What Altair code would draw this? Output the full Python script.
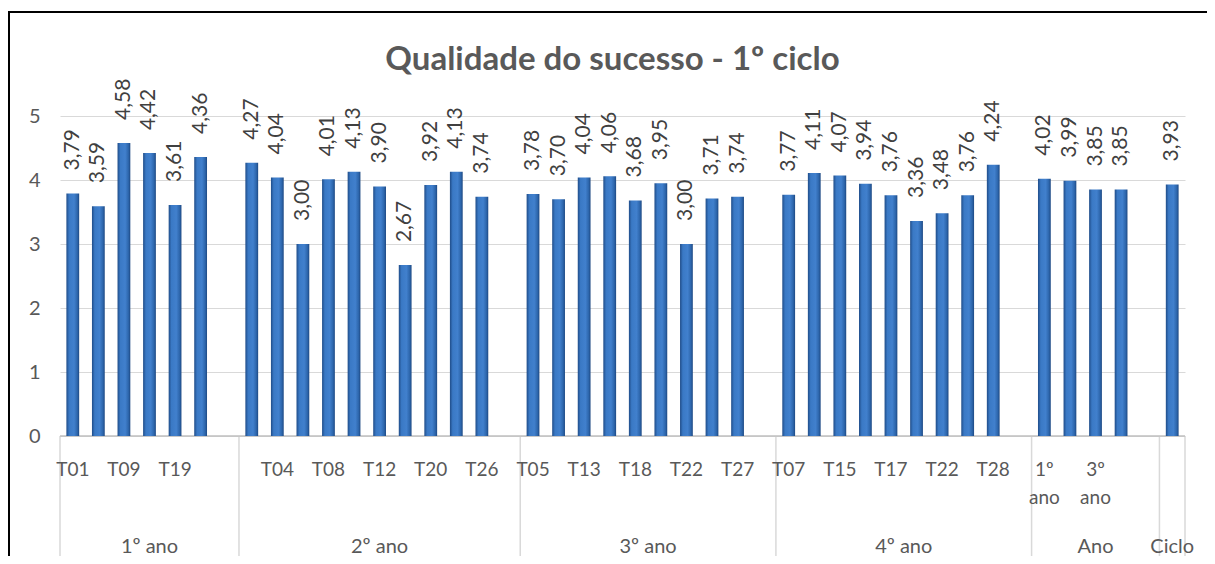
import altair as alt
import pandas as pd

# ---- data ----
title_text = "Qualidade do sucesso - 1º ciclo"
groups = ["1º ano", "2º ano", "3º ano", "4º ano", "Ano", "Ciclo"]

values_1ano = [3.79, 3.59, 4.58, 4.42, 3.61, 4.36]
values_2ano = [4.27, 4.04, 3.00, 4.01, 4.13, 3.90, 2.67, 3.92, 4.13, 3.74]
values_3ano = [3.78, 3.70, 4.04, 4.06, 3.68, 3.95, 3.00, 3.71, 3.74]
values_4ano = [3.77, 4.11, 4.07, 3.94, 3.76, 3.36, 3.48, 3.76, 4.24]
values_ano = [4.02, 3.99, 3.85, 3.85]
values_ciclo = [3.93]

# visible category labels (Excel showed every other one; "" = label not shown)
ticks_1ano = ["T01", "", "T09", "", "T19", ""]
ticks_2ano = ["", "T04", "", "T08", "", "T12", "", "T20", "", "T26"]
ticks_3ano = ["T05", "", "T13", "", "T18", "", "T22", "", "T27"]
ticks_4ano = ["T07", "", "T15", "", "T17", "", "T22", "", "T28"]
ticks_ano = ["1º\nano", "", "3º\nano", ""]
ticks_ciclo = [""]

# each group (except the last) is followed by one empty category slot
spacers = [1, 1, 1, 1, 1, 0]

all_values = [values_1ano, values_2ano, values_3ano, values_4ano, values_ano, values_ciclo]
all_ticks = [ticks_1ano, ticks_2ano, ticks_3ano, ticks_4ano, ticks_ano, ticks_ciclo]

rows, grows, brows = [], [], []
i = 0
brows.append({"b": 0})
for g, vals, tks, sp in zip(groups, all_values, all_ticks, spacers):
    start = i
    for v, t in zip(vals, tks):
        rows.append({"i": i, "v": v, "lbl": f"{v:.2f}".replace(".", ","), "tick": t, "g": g})
        i += 1
    i += sp
    grows.append({"g": g, "s": start, "e": i})
    brows.append({"b": i})
N = i

df = pd.DataFrame(rows)
gdf = pd.DataFrame(grows)
bdf = pd.DataFrame(brows)

W, H = 1125, 320
FONT = "Lato"
xscale = alt.Scale(domain=[0, N], nice=False, zero=False)
yscale = alt.Scale(domain=[0, 5], nice=False)

base = alt.Chart(df).transform_calculate(
    x0="datum.i + 0.25", x1="datum.i + 0.75", xc="datum.i + 0.5"
)

grad = alt.Gradient(
    gradient="linear",
    stops=[
        alt.GradientStop(color="#1f4c88", offset=0),
        alt.GradientStop(color="#3a79c5", offset=0.22),
        alt.GradientStop(color="#4180cd", offset=0.6),
        alt.GradientStop(color="#2d66ac", offset=0.85),
        alt.GradientStop(color="#1d4882", offset=1),
    ],
    x1=0, x2=1, y1=0, y2=0,
)

bars = base.mark_bar(color=grad).encode(
    x=alt.X("x0:Q", scale=xscale, axis=None),
    x2="x1:Q",
    y=alt.Y(
        "v:Q",
        scale=yscale,
        axis=alt.Axis(
            values=[0, 1, 2, 3, 4, 5],
            format="d",
            grid=True,
            gridColor="#d9d9d9",
            gridWidth=1.2,
            domain=False,
            ticks=False,
            labelPadding=20,
            labelFontSize=20,
            labelFont=FONT,
            labelColor="#595959",
            title=None,
        ),
    ),
    y2=alt.datum(0),
)

value_labels = base.mark_text(
    angle=270, align="left", baseline="middle", dx=23,
    fontSize=21, font=FONT, color="#404040",
).encode(
    x=alt.X("xc:Q", scale=xscale, axis=None),
    y=alt.Y("v:Q", scale=yscale),
    text="lbl:N",
)

tick_labels = base.mark_text(
    align="center", baseline="top", fontSize=19, font=FONT,
    color="#595959", lineBreak="\n", lineHeight=28,
).encode(
    x=alt.X("xc:Q", scale=xscale, axis=None),
    y=alt.value(345),
    text="tick:N",
)

group_labels = alt.Chart(gdf).transform_calculate(
    gc="(datum.s + datum.e) / 2"
).mark_text(
    align="center", baseline="middle", fontSize=20, font=FONT, color="#595959"
).encode(
    x=alt.X("gc:Q", scale=xscale, axis=None),
    y=alt.value(431),
    text="g:N",
)

separators = alt.Chart(bdf).mark_rule(color="#d9d9d9", strokeWidth=1.5).encode(
    x=alt.X("b:Q", scale=xscale, axis=None),
    y=alt.value(H),
    y2=alt.value(H + 130),
)

axis_line = alt.Chart(pd.DataFrame({"z": [0]})).mark_rule(
    color="#bfbfbf", strokeWidth=1.3
).encode(
    x=alt.value(0), x2=alt.value(W), y=alt.Y("z:Q", scale=yscale)
)

one = pd.DataFrame({"z": [0]})
border_left = alt.Chart(one).mark_rule(color="black", strokeWidth=2).encode(
    x=alt.value(-51), y=alt.value(-104), y2=alt.value(H + 160)
)
border_top = alt.Chart(one).mark_rule(color="black", strokeWidth=2).encode(
    x=alt.value(-52), x2=alt.value(W + 40), y=alt.value(-104)
)

title = alt.Chart(pd.DataFrame({"t": [title_text]})).mark_text(
    align="center", baseline="alphabetic", fontSize=33, fontWeight="bold",
    font=FONT, color="#595959",
).encode(
    x=alt.value(W / 2 - 10), y=alt.value(-46), text="t:N"
)

chart = alt.layer(
    border_left, border_top, separators, axis_line, bars, value_labels,
    tick_labels, group_labels, title
).properties(
    width=W,
    height=H,
    padding={"left": 52, "top": 108, "right": 22, "bottom": 120},
    autosize=alt.AutoSizeParams(type="none"),
).configure_view(stroke=None)

chart.save("out.html", embed_options={"renderer": "svg", "actions": False})
